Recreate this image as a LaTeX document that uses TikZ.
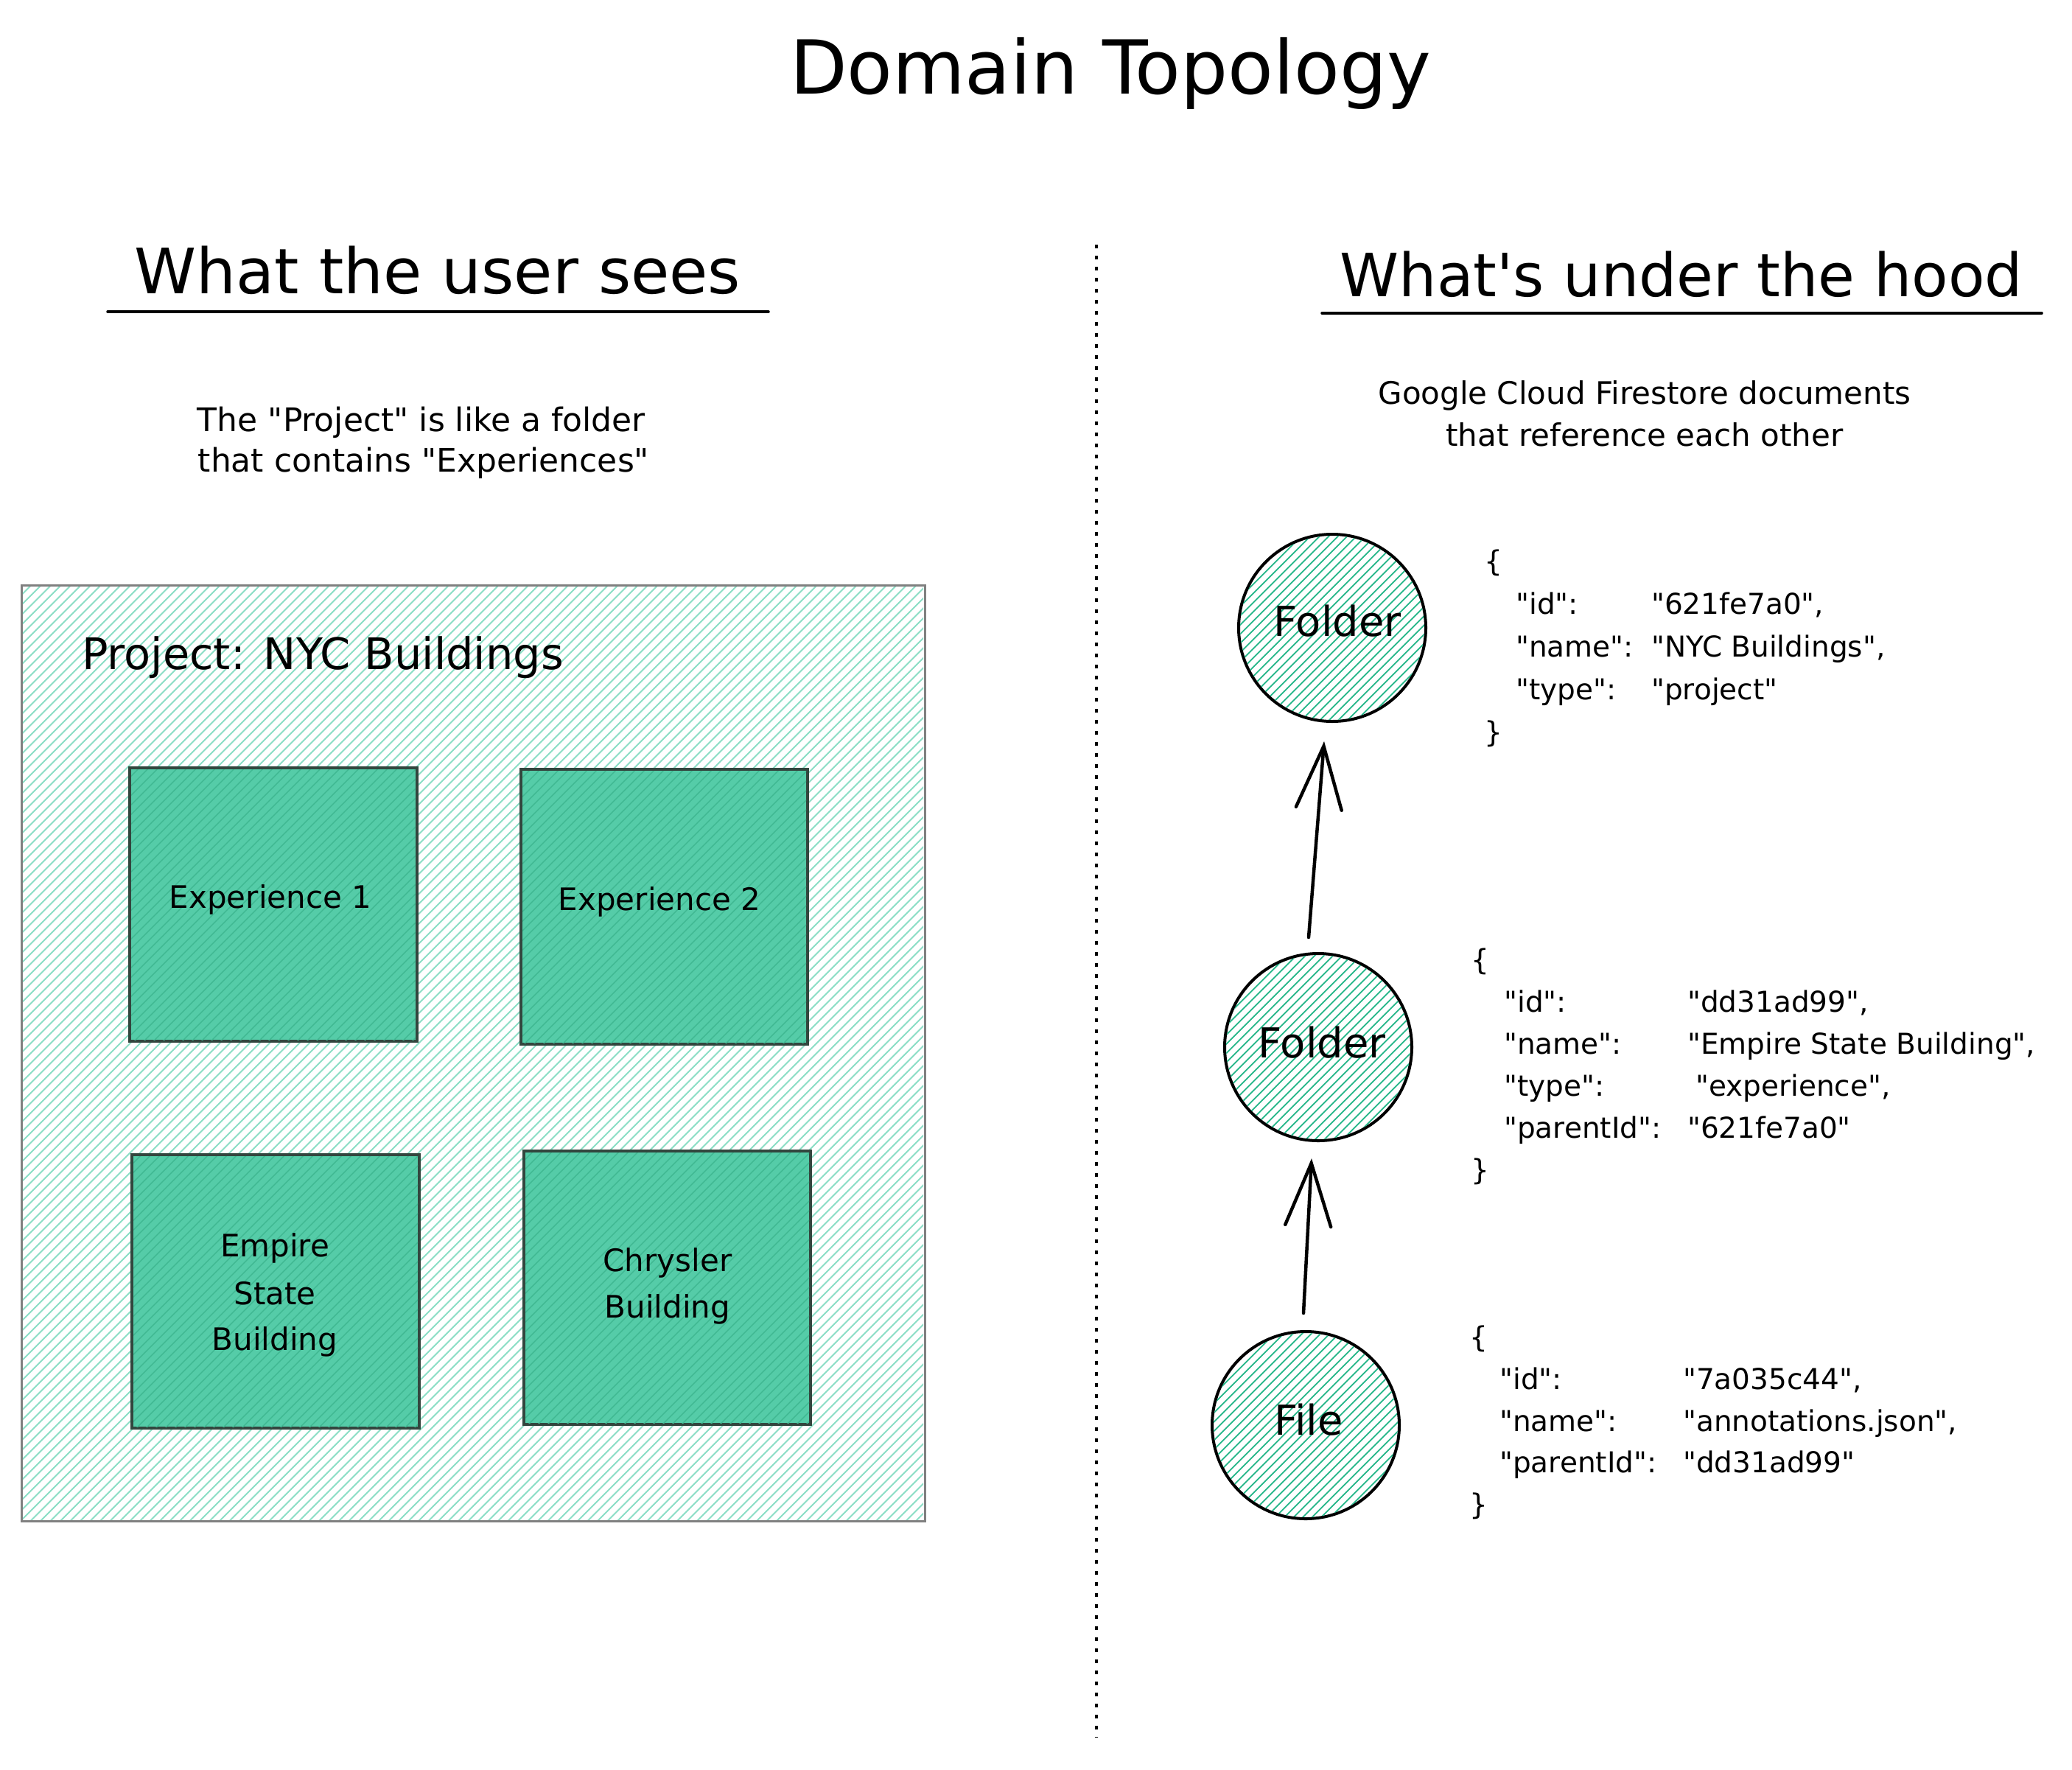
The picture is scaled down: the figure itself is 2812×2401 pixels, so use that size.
\documentclass[tikz,border=0pt]{standalone}
\usepackage{fontspec}
\setmainfont{DejaVu Sans}[Ligatures=TeXOff]
\usetikzlibrary{arrows.meta,calc}
\definecolor{hatchlight}{RGB}{140,222,198}
\definecolor{hatchdark}{RGB}{36,182,136}
\definecolor{expfill}{RGB}{85,204,168}
\definecolor{exphatch}{RGB}{64,184,146}
\definecolor{expborder}{RGB}{50,70,62}
\definecolor{projborder}{RGB}{128,128,128}
% #1 x0, #2 x1, #3 y0 (top), #4 y1 (bottom), #5 horizontal step
\newcommand\hatchlines[5]{%
  \pgfmathsetmacro\hL{#4-#3}%
  \pgfmathsetmacro\hA{#1-\hL}%
  \pgfmathsetmacro\hB{\hA+#5}%
  \foreach \c in {\hA,\hB,...,#2} {\draw ({\c},#4) -- ++(\hL,-\hL);}%
}
\begin{document}
\begin{tikzpicture}[x=1pt,y=-1pt,
  txt/.style={inner sep=0pt, anchor=base},
  titletext/.style={txt, font=\fontsize{101}{121}\selectfont},
  header/.style={txt, font=\fontsize{81}{97}\selectfont},
  desc/.style={txt, font=\fontsize{43}{52}\selectfont},
  projlabel/.style={txt, anchor=base west, font=\fontsize{59}{70}\selectfont},
  boxlabel/.style={txt, font=\fontsize{42}{50}\selectfont},
  circlabel/.style={txt, font=\fontsize{56}{67}\selectfont},
  json/.style={txt, anchor=base west, font=\fontsize{39}{47}\selectfont},
  rule/.style={line width=3.5pt, line cap=round},
  projbox/.style={rectangle, draw=projborder, line width=3pt, inner sep=0pt},
  expbox/.style={rectangle, draw=expborder, line width=3.5pt, inner sep=0pt, fill=expfill},
  docnode/.style={circle, draw=black, line width=4pt, minimum size=254pt, inner sep=0pt, fill=white},
  hatchA/.style={draw=hatchlight, line width=2pt},
  hatchB/.style={draw=exphatch, line width=1.4pt},
  hatchC/.style={draw=hatchdark, line width=1.8pt},
  link/.style={line width=4.5pt, line cap=round, -{Straight Barb[length=85pt,width=62pt,line cap=round]}},
  divider/.style={line width=4pt, dash pattern=on 5pt off 10pt},
]
\useasboundingbox (0,0) rectangle (2812,2401);
\fill[white] (0,0) rectangle (2812,2401);

% title
\node[titletext] (title) at (1507,127) {Domain Topology};

% divider
\coordinate (divtop) at (1488,332);
\coordinate (divbot) at (1488,2358);
\draw[divider] (divtop) -- (divbot);

% headers
\node[header, font=\fontsize{85}{102}\selectfont] (hl) at (594,398) {What the user sees};
\coordinate (ul1) at (146,423); \coordinate (ul2) at (1043,423);
\draw[rule] (ul1) -- (ul2);
\node[header] (hr) at (2282,402) {What's under the hood};
\coordinate (ur1) at (1794,425); \coordinate (ur2) at (2771,425);
\draw[rule] (ur1) -- (ur2);

% descriptions
\node[desc, font=\fontsize{44}{53}\selectfont] (dl1) at (572,585) {The "Project" is like a folder};
\node[desc, font=\fontsize{44}{53}\selectfont] (dl2) at (575,640) {that contains "Experiences"};
\node[desc, font=\fontsize{42}{50}\selectfont] (dr1) at (2232,548) {Google Cloud Firestore documents};
\node[desc, font=\fontsize{42}{50}\selectfont] (dr2) at (2232,605) {that reference each other};

% project box
\node[projbox, minimum width=1226pt, minimum height=1270pt] (proj) at (642,1429) {};
\begin{scope}
  \clip (31,796) rectangle (1253,2062);
  \begin{scope}[hatchA]\hatchlines{29}{1255}{794}{2064}{13.5}\end{scope}
\end{scope}
\node[projlabel] (projt) at (111,908) {Project: NYC Buildings};

% experience boxes
\node[expbox, minimum width=390pt, minimum height=371pt] (e1) at (371,1227.5) {};
\node[expbox, minimum width=389pt, minimum height=373pt] (e2) at (901.5,1230.5) {};
\node[expbox, minimum width=390pt, minimum height=371pt] (e3) at (374,1752.5) {};
\node[expbox, minimum width=389pt, minimum height=371pt] (e4) at (905.5,1747.5) {};
\begin{scope}[hatchB]
  \begin{scope}\clip (178,1044) rectangle (564,1411); \hatchlines{176}{566}{1042}{1413}{13}\end{scope}
  \begin{scope}\clip (709,1046) rectangle (1094,1415); \hatchlines{707}{1096}{1044}{1417}{13}\end{scope}
  \begin{scope}\clip (181,1569) rectangle (567,1936); \hatchlines{179}{569}{1567}{1938}{13}\end{scope}
  \begin{scope}\clip (713,1564) rectangle (1098,1931); \hatchlines{711}{1100}{1562}{1933}{13}\end{scope}
\end{scope}

\node[boxlabel] (e1t) at (367,1232) {Experience 1};
\node[boxlabel] (e2t) at (895,1235) {Experience 2};
\node[boxlabel] (e3a) at (373,1705) {Empire};
\node[boxlabel] (e3b) at (373,1770) {State};
\node[boxlabel] (e3c) at (373,1832) {Building};
\node[boxlabel] (e4a) at (906,1725) {Chrysler};
\node[boxlabel] (e4b) at (906,1788) {Building};

% document nodes
\node[docnode] (f1) at (1808,852) {};
\node[docnode] (f2) at (1789,1421) {};
\node[docnode] (f3) at (1772,1934) {};
\begin{scope}[hatchC]
  \begin{scope}\clip (f1.center) circle[radius=125]; \hatchlines{1681}{1935}{725}{979}{12.5}\end{scope}
  \begin{scope}\clip (f2.center) circle[radius=125]; \hatchlines{1662}{1916}{1294}{1548}{12.5}\end{scope}
  \begin{scope}\clip (f3.center) circle[radius=125]; \hatchlines{1645}{1899}{1807}{2061}{12.5}\end{scope}
\end{scope}
\node[circlabel] (f1t) at (1815,863) {Folder};
\node[circlabel] (f2t) at (1794,1435) {Folder};
\node[circlabel] (f3t) at (1776,1947) {File};

\draw[link] ($(f2.north)+(-13,-20)$) -- ($(f1.south)+(-11,25)$);
\draw[link] ($(f3.north)+(-3,-23)$) -- ($(f2.south)+(-9,22)$);

% json 1
\node[json] (j1o) at (2014,775) {\{};
\node[json] (j1k1) at (2057,833) {"id":};
\node[json] (j1v1) at (2241,833) {"621fe7a0",};
\node[json] (j1k2) at (2057,891) {"name":};
\node[json] (j1v2) at (2241,891) {"NYC Buildings",};
\node[json] (j1k3) at (2057,949) {"type":};
\node[json] (j1v3) at (2241,949) {"project"};
\node[json] (j1c) at (2014,1007) {\}};

% json 2
\node[json] (j2o) at (1996,1316) {\{};
\node[json] (j2k1) at (2041,1373) {"id":};
\node[json] (j2v1) at (2290,1373) {"dd31ad99",};
\node[json] (j2k2) at (2041,1430) {"name":};
\node[json] (j2v2) at (2290,1430) {"Empire State Building",};
\node[json] (j2k3) at (2041,1487) {"type":};
\node[json] (j2v3) at (2301,1487) {"experience",};
\node[json] (j2k4) at (2041,1544) {"parentId":};
\node[json] (j2v4) at (2290,1544) {"621fe7a0"};
\node[json] (j2c) at (1996,1601) {\}};

% json 3
\node[json] (j3o) at (1994,1828) {\{};
\node[json] (j3k1) at (2035,1885) {"id":};
\node[json] (j3v1) at (2284,1885) {"7a035c44",};
\node[json] (j3k2) at (2035,1942) {"name":};
\node[json] (j3v2) at (2284,1942) {"annotations.json",};
\node[json] (j3k3) at (2035,1998) {"parentId":};
\node[json] (j3v3) at (2284,1998) {"dd31ad99"};
\node[json] (j3c) at (1994,2055) {\}};
\end{tikzpicture}
\end{document}
